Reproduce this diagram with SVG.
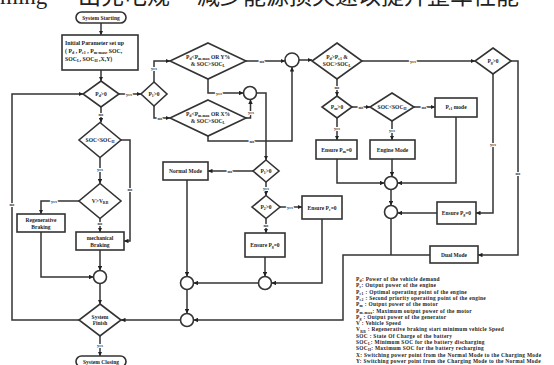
<svg xmlns="http://www.w3.org/2000/svg" width="554" height="365" viewBox="0 0 554 365">
<style>
.n{fill:#fff;stroke:#333;stroke-width:1.6}
.t{font-family:"Liberation Serif",serif;font-weight:bold;font-size:5.5px;fill:#222;text-anchor:middle}
.ti{font-family:"Liberation Serif",serif;font-weight:bold;font-size:5.8px;fill:#222}
#connectors path{fill:none;stroke:#333;stroke-width:1.5}
.l{font-family:"Liberation Serif",serif;font-weight:bold;font-size:4.5px;fill:#333;text-anchor:middle;paint-order:stroke;stroke:#fff;stroke-width:2px}
.lg{font-family:"Liberation Serif",serif;font-weight:bold;font-size:5.4px;letter-spacing:0.3px;fill:#222}
.s{font-size:70%}
.hd{font-family:"Liberation Serif","Noto Sans CJK SC",serif;font-size:23px;fill:#222}
</style>
<defs>
<marker id="a" viewBox="0 0 6 6" refX="6" refY="3" markerWidth="4.5" markerHeight="4.5" markerUnits="userSpaceOnUse" orient="auto"><path d="M0,0L6,3L0,6z" fill="#222"/></marker>
</defs>
<rect width="554" height="365" fill="#fff"/>
<text class="hd" y="4"><tspan x="0">ming</tspan><tspan x="78">出充电规</tspan><tspan x="197">减少能源损失速以提升整车性能</tspan></text>

<g id="connectors">
<path d="M101,23V35" marker-end="url(#a)"/>
<path d="M101,70V81" marker-end="url(#a)"/>
<path d="M119,94H141" marker-end="url(#a)"/>
<path d="M154,82V61H170" marker-end="url(#a)"/>
<path d="M154,106V118H170" marker-end="url(#a)"/>
<path d="M246,61H285" marker-end="url(#a)"/>
<path d="M208,79V93H243.5" marker-end="url(#a)"/>
<path d="M246,118H250.5V99.5" marker-end="url(#a)"/>
<path d="M208,136V141H292V67" marker-end="url(#a)"/>
<path d="M256.5,93H266V160" marker-end="url(#a)"/>
<path d="M299,60H312" marker-end="url(#a)"/>
<path d="M362,61H475" marker-end="url(#a)"/>
<path d="M337,79V96" marker-end="url(#a)"/>
<path d="M352,107H370" marker-end="url(#a)"/>
<path d="M414,107H435" marker-end="url(#a)"/>
<path d="M392,121V140" marker-end="url(#a)"/>
<path d="M337,118V140" marker-end="url(#a)"/>
<path d="M337,159V183H384.5" marker-end="url(#a)"/>
<path d="M392,159V176.5" marker-end="url(#a)"/>
<path d="M456,117V183H397.5" marker-end="url(#a)"/>
<path d="M391,189.5V205.5" marker-end="url(#a)"/>
<path d="M493,74V213H476" marker-end="url(#a)"/>
<path d="M437,213H397.5" marker-end="url(#a)"/>
<path d="M511,61H518V255H478" marker-end="url(#a)"/>
<path d="M391,218.5V255"/>
<path d="M430,255H343V320H193.5" marker-end="url(#a)"/>
<path d="M253,171H208" marker-end="url(#a)"/>
<path d="M266,182V195.5" marker-end="url(#a)"/>
<path d="M280,207H302" marker-end="url(#a)"/>
<path d="M266,218.5V233" marker-end="url(#a)"/>
<path d="M265,257V276.5" marker-end="url(#a)"/>
<path d="M322,219V283H271.5" marker-end="url(#a)"/>
<path d="M258.5,283H193.5" marker-end="url(#a)"/>
<path d="M187,180V276.5" marker-end="url(#a)"/>
<path d="M187,289.5V313.5" marker-end="url(#a)"/>
<path d="M180.5,320H121" marker-end="url(#a)"/>
<path d="M79,320H12V94H83" marker-end="url(#a)"/>
<path d="M100,336V356" marker-end="url(#a)"/>
<path d="M101,107V122.5" marker-end="url(#a)"/>
<path d="M121,140H130V241H124" marker-end="url(#a)"/>
<path d="M100,157.5V183.5" marker-end="url(#a)"/>
<path d="M79,201H41V214" marker-end="url(#a)"/>
<path d="M100,218.5V232" marker-end="url(#a)"/>
<path d="M41,232V277H93.5" marker-end="url(#a)"/>
<path d="M100,250V270.5" marker-end="url(#a)"/>
<path d="M100,283.5V304" marker-end="url(#a)"/>
<text class="l" x="129" y="95.5">yes</text>
<text class="l" x="154" y="70">yes</text>
<text class="l" x="160" y="119.5">no</text>
<text class="l" x="262" y="62.5">no</text>
<text class="l" x="219" y="94.5">yes</text>
<text class="l" x="251" y="114">yes</text>
<text class="l" x="252" y="142.5">no</text>
<text class="l" x="413" y="62.5">yes</text>
<text class="l" x="337" y="88.5">no</text>
<text class="l" x="361" y="108.5">no</text>
<text class="l" x="424" y="108.5">no</text>
<text class="l" x="392" y="132">yes</text>
<text class="l" x="337" y="130">yes</text>
<text class="l" x="493" y="146">yes</text>
<text class="l" x="518" y="175">no</text>
<text class="l" x="230" y="172.5">no</text>
<text class="l" x="266" y="190">yes</text>
<text class="l" x="290" y="208.5">yes</text>
<text class="l" x="266" y="227">no</text>
<text class="l" x="12" y="206">no</text>
<text class="l" x="100" y="347">yes</text>
<text class="l" x="101" y="116">no</text>
<text class="l" x="130" y="191">no</text>
<text class="l" x="100" y="171">yes</text>
<text class="l" x="54" y="202.5">yes</text>
<text class="l" x="100" y="225">no</text>
</g>

<g id="start"><rect class="n" x="76" y="12" width="50" height="11" rx="5.5"/><text class="t" x="101" y="19.5">System Starting</text></g>
<g id="init"><rect class="n" x="62" y="35" width="76" height="35"/>
<text class="ti" x="65" y="45">Initial Parameter set up</text>
<text class="ti" x="65" y="53">( P<tspan class="s" dy="1.3">d</tspan><tspan dy="-1.3"> , P</tspan><tspan class="s" dy="1.3">e1</tspan><tspan dy="-1.3"> , P</tspan><tspan class="s" dy="1.3">m-max</tspan><tspan dy="-1.3">, SOC,</tspan></text>
<text class="ti" x="65" y="61">SOC<tspan class="s" dy="1.3">L</tspan><tspan dy="-1.3">, SOC</tspan><tspan class="s" dy="1.3">H</tspan><tspan dy="-1.3"> ,X,Y)</tspan></text></g>
<g id="d_pd"><polygon class="n" points="101,81 119,94 101,107 83,94"/><text class="t" x="101" y="96">P<tspan class="s" dy="1.2">d</tspan><tspan dy="-1.2">&gt;0</tspan></text></g>
<g id="d_p1a"><polygon class="n" points="154,82 167,94 154,106 141,94"/><text class="t" x="154" y="96">P<tspan class="s" dy="1.2">1</tspan><tspan dy="-1.2">&gt;0</tspan></text></g>
<g id="d_up"><polygon class="n" points="208,43 246,61 208,79 170,61"/><text class="t" x="208" y="59">P<tspan class="s" dy="1.2">d</tspan><tspan dy="-1.2">&lt;P</tspan><tspan class="s" dy="1.2">m-max</tspan><tspan dy="-1.2"> OR Y%</tspan></text><text class="t" x="208" y="66">&amp; SOC&gt;SOC<tspan class="s" dy="1.2">L</tspan></text></g>
<g id="d_low"><polygon class="n" points="208,100 246,118 208,136 170,118"/><text class="t" x="208" y="116">P<tspan class="s" dy="1.2">d</tspan><tspan dy="-1.2">&lt;P</tspan><tspan class="s" dy="1.2">m-max</tspan><tspan dy="-1.2"> OR X%</tspan></text><text class="t" x="208" y="123">&amp; SOC&gt;SOC<tspan class="s" dy="1.2">L</tspan></text></g>
<g id="c1"><circle class="n" cx="292" cy="60" r="7"/></g>
<g id="c2"><circle class="n" cx="250" cy="93" r="6.5"/></g>
<g id="d_pe1"><polygon class="n" points="337,43 362,61 337,79 312,61"/><text class="t" x="337" y="59">P<tspan class="s" dy="1.2">d</tspan><tspan dy="-1.2">&gt;P</tspan><tspan class="s" dy="1.2">e1</tspan><tspan dy="-1.2"> &amp;</tspan></text><text class="t" x="337" y="66">SOC&gt;SOC<tspan class="s" dy="1.2">L</tspan></text></g>
<g id="d_pg"><polygon class="n" points="493,48 511,61 493,74 475,61"/><text class="t" x="493" y="63">P<tspan class="s" dy="1.2">g</tspan><tspan dy="-1.2">&gt;0</tspan></text></g>
<g id="d_pm"><polygon class="n" points="337,96 352,107 337,118 322,107"/><text class="t" x="337" y="109">P<tspan class="s" dy="1.2">m</tspan><tspan dy="-1.2">&gt;0</tspan></text></g>
<g id="d_soch2"><polygon class="n" points="392,93 414,107 392,121 370,107"/><text class="t" x="392" y="109">SOC&lt;SOC<tspan class="s" dy="1.2">H</tspan></text></g>
<g id="b_pe1mode"><rect class="n" x="435" y="98" width="42" height="19"/><text class="t" x="456" y="109">P<tspan class="s" dy="1.2">e1</tspan><tspan dy="-1.2"> mode</tspan></text></g>
<g id="b_ensure_pm"><rect class="n" x="316" y="140" width="41" height="19"/><text class="t" x="336.5" y="151.5">Ensure P<tspan class="s" dy="1.2">m</tspan><tspan dy="-1.2">=0</tspan></text></g>
<g id="b_engine"><rect class="n" x="370" y="140" width="45" height="19"/><text class="t" x="392.5" y="151.5">Engine Mode</text></g>
<g id="c3"><circle class="n" cx="391" cy="183" r="6.5"/></g>
<g id="c4"><circle class="n" cx="391" cy="212" r="6.5"/></g>
<g id="b_ensure_pg"><rect class="n" x="437" y="202" width="39" height="22"/><text class="t" x="456.5" y="215">Ensure P<tspan class="s" dy="1.2">g</tspan><tspan dy="-1.2">=0</tspan></text></g>
<g id="b_dual"><rect class="n" x="430" y="246" width="48" height="17"/><text class="t" x="454" y="256.5">Dual  Mode</text></g>
<g id="d_p1b"><polygon class="n" points="266,160 279,171 266,182 253,171"/><text class="t" x="266" y="173">P<tspan class="s" dy="1.2">1</tspan><tspan dy="-1.2">&gt;0</tspan></text></g>
<g id="d_p2"><polygon class="n" points="266,195.5 280,207 266,218.5 252,207"/><text class="t" x="266" y="209">P<tspan class="s" dy="1.2">2</tspan><tspan dy="-1.2">&gt;0</tspan></text></g>
<g id="b_normal"><rect class="n" x="163" y="162" width="45" height="18"/><text class="t" x="185.5" y="173">Normal Mode</text></g>
<g id="b_ensure_pe"><rect class="n" x="302" y="196" width="40" height="23"/><text class="t" x="322" y="209.5">Ensure  P<tspan class="s" dy="1.2">e</tspan><tspan dy="-1.2">=0</tspan></text></g>
<g id="b_ensure_pe2"><rect class="n" x="245" y="233" width="40" height="24"/><text class="t" x="265" y="247">Ensure P<tspan class="s" dy="1.2">g</tspan><tspan dy="-1.2">=0</tspan></text></g>
<g id="c5"><circle class="n" cx="265" cy="283" r="6.5"/></g>
<g id="c6"><circle class="n" cx="187" cy="283" r="6.5"/></g>
<g id="c7"><circle class="n" cx="187" cy="320" r="6.5"/></g>
<g id="d_soc"><polygon class="n" points="100,122.5 121,140 100,157.5 79,140"/><text class="t" x="100" y="142">SOC&lt;SOC<tspan class="s" dy="1.2">H</tspan></text></g>
<g id="d_v"><polygon class="n" points="100,183.5 121,201 100,218.5 79,201"/><text class="t" x="100" y="203">V&gt;V<tspan class="s" dy="1.2">RB</tspan></text></g>
<g id="b_regen"><rect class="n" x="17" y="214" width="48" height="18"/><text class="t" x="41" y="222">Regenerative</text><text class="t" x="41" y="229">Braking</text></g>
<g id="b_mech"><rect class="n" x="76" y="232" width="48" height="18"/><text class="t" x="100" y="240">mechanical</text><text class="t" x="100" y="247">Braking</text></g>
<g id="c8"><circle class="n" cx="100" cy="277" r="6.5"/></g>
<g id="d_finish"><polygon class="n" points="100,304 121,320 100,336 79,320"/><text class="t" x="100" y="318.5">System</text><text class="t" x="100" y="325">Finish</text></g>
<g id="end"><rect class="n" x="76" y="356" width="50" height="11" rx="5.5"/><text class="t" x="101" y="363.5">System Closing</text></g>

<g id="legend">
<text class="lg" x="356" y="281">P<tspan class="s" dy="1.1">d</tspan><tspan dy="-1.1">: Power of the vehicle demand</tspan></text>
<text class="lg" x="356" y="287.3">P<tspan class="s" dy="1.1">e</tspan><tspan dy="-1.1">: Output power of the engine</tspan></text>
<text class="lg" x="356" y="293.6">P<tspan class="s" dy="1.1">e1</tspan><tspan dy="-1.1"> : Optimal operating point of the engine</tspan></text>
<text class="lg" x="356" y="299.9">P<tspan class="s" dy="1.1">e2</tspan><tspan dy="-1.1"> : Second priority operating point of the engine</tspan></text>
<text class="lg" x="356" y="306.2">P<tspan class="s" dy="1.1">m</tspan><tspan dy="-1.1"> : Output power of the motor</tspan></text>
<text class="lg" x="356" y="312.5">P<tspan class="s" dy="1.1">m-max</tspan><tspan dy="-1.1">: Maximum output power of the motor</tspan></text>
<text class="lg" x="356" y="318.8">P<tspan class="s" dy="1.1">g</tspan><tspan dy="-1.1"> : Output power of the generator</tspan></text>
<text class="lg" x="356" y="325.1">V : Vehicle Speed</text>
<text class="lg" x="356" y="331.4">V<tspan class="s" dy="1.1">RB</tspan><tspan dy="-1.1"> : Regenerative braking start minimum vehicle Speed</tspan></text>
<text class="lg" x="356" y="337.7">SOC : State Of Charge of the battery</text>
<text class="lg" x="356" y="344">SOC<tspan class="s" dy="1.1">L</tspan><tspan dy="-1.1">: Minimum SOC for the battery discharging</tspan></text>
<text class="lg" x="356" y="350.3">SOC<tspan class="s" dy="1.1">H</tspan><tspan dy="-1.1">: Maximum SOC for the battery recharging</tspan></text>
<text class="lg" x="356" y="356.6">X: Switching power point from the Normal Mode to the Charging Mode</text>
<text class="lg" x="356" y="362.9">Y: Switching power point from the Charging Mode to the Normal Mode</text>
</g>
</svg>
